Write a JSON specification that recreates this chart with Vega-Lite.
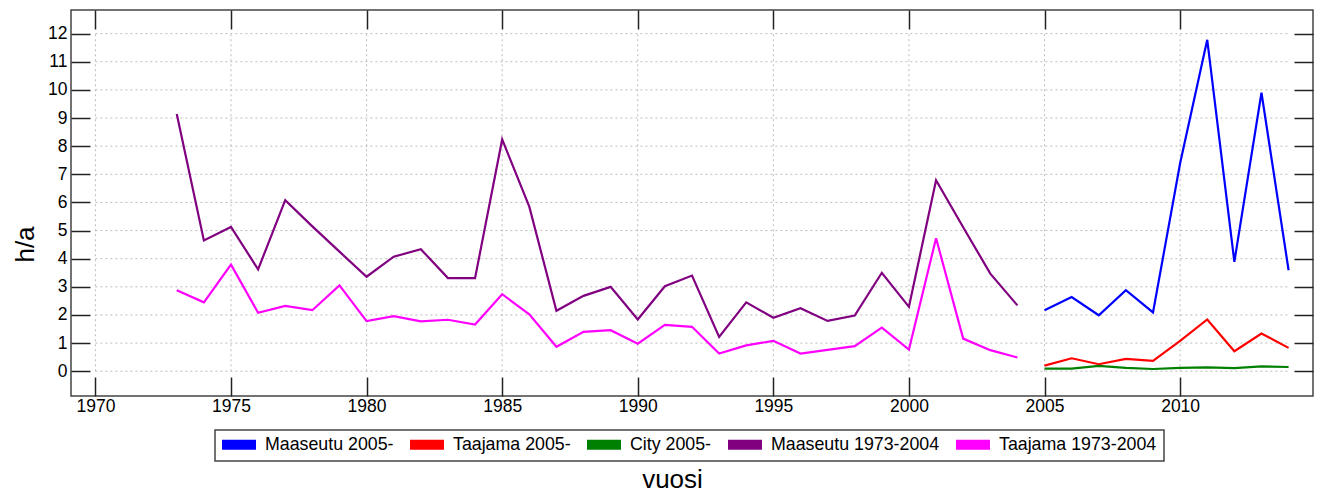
{
  "$schema": "https://vega.github.io/schema/vega-lite/v6.json",
  "width": 1242,
  "height": 386,
  "autosize": "none",
  "padding": {"left": 71, "top": 10, "right": 9, "bottom": 96},
  "background": "white",
  "config": {
    "view": {"stroke": "#444", "strokeWidth": 1.5},
    "font": "Liberation Sans"
  },
  "datasets": {
    "series": [
      {"year": 1973, "value": 9.14, "series": "Maaseutu 1973-2004"},
      {"year": 1974, "value": 4.65, "series": "Maaseutu 1973-2004"},
      {"year": 1975, "value": 5.13, "series": "Maaseutu 1973-2004"},
      {"year": 1976, "value": 3.62, "series": "Maaseutu 1973-2004"},
      {"year": 1977, "value": 6.08, "series": "Maaseutu 1973-2004"},
      {"year": 1978, "value": 5.15, "series": "Maaseutu 1973-2004"},
      {"year": 1979, "value": 4.25, "series": "Maaseutu 1973-2004"},
      {"year": 1980, "value": 3.36, "series": "Maaseutu 1973-2004"},
      {"year": 1981, "value": 4.07, "series": "Maaseutu 1973-2004"},
      {"year": 1982, "value": 4.34, "series": "Maaseutu 1973-2004"},
      {"year": 1983, "value": 3.31, "series": "Maaseutu 1973-2004"},
      {"year": 1984, "value": 3.31, "series": "Maaseutu 1973-2004"},
      {"year": 1985, "value": 8.24, "series": "Maaseutu 1973-2004"},
      {"year": 1986, "value": 5.85, "series": "Maaseutu 1973-2004"},
      {"year": 1987, "value": 2.15, "series": "Maaseutu 1973-2004"},
      {"year": 1988, "value": 2.68, "series": "Maaseutu 1973-2004"},
      {"year": 1989, "value": 3.0, "series": "Maaseutu 1973-2004"},
      {"year": 1990, "value": 1.84, "series": "Maaseutu 1973-2004"},
      {"year": 1991, "value": 3.02, "series": "Maaseutu 1973-2004"},
      {"year": 1992, "value": 3.4, "series": "Maaseutu 1973-2004"},
      {"year": 1993, "value": 1.22, "series": "Maaseutu 1973-2004"},
      {"year": 1994, "value": 2.45, "series": "Maaseutu 1973-2004"},
      {"year": 1995, "value": 1.9, "series": "Maaseutu 1973-2004"},
      {"year": 1996, "value": 2.24, "series": "Maaseutu 1973-2004"},
      {"year": 1997, "value": 1.79, "series": "Maaseutu 1973-2004"},
      {"year": 1998, "value": 1.98, "series": "Maaseutu 1973-2004"},
      {"year": 1999, "value": 3.5, "series": "Maaseutu 1973-2004"},
      {"year": 2000, "value": 2.29, "series": "Maaseutu 1973-2004"},
      {"year": 2001, "value": 6.79, "series": "Maaseutu 1973-2004"},
      {"year": 2002, "value": 5.12, "series": "Maaseutu 1973-2004"},
      {"year": 2003, "value": 3.47, "series": "Maaseutu 1973-2004"},
      {"year": 2004, "value": 2.34, "series": "Maaseutu 1973-2004"},
      {"year": 1973, "value": 2.88, "series": "Taajama 1973-2004"},
      {"year": 1974, "value": 2.45, "series": "Taajama 1973-2004"},
      {"year": 1975, "value": 3.79, "series": "Taajama 1973-2004"},
      {"year": 1976, "value": 2.08, "series": "Taajama 1973-2004"},
      {"year": 1977, "value": 2.32, "series": "Taajama 1973-2004"},
      {"year": 1978, "value": 2.17, "series": "Taajama 1973-2004"},
      {"year": 1979, "value": 3.05, "series": "Taajama 1973-2004"},
      {"year": 1980, "value": 1.78, "series": "Taajama 1973-2004"},
      {"year": 1981, "value": 1.96, "series": "Taajama 1973-2004"},
      {"year": 1982, "value": 1.77, "series": "Taajama 1973-2004"},
      {"year": 1983, "value": 1.83, "series": "Taajama 1973-2004"},
      {"year": 1984, "value": 1.66, "series": "Taajama 1973-2004"},
      {"year": 1985, "value": 2.74, "series": "Taajama 1973-2004"},
      {"year": 1986, "value": 2.02, "series": "Taajama 1973-2004"},
      {"year": 1987, "value": 0.87, "series": "Taajama 1973-2004"},
      {"year": 1988, "value": 1.4, "series": "Taajama 1973-2004"},
      {"year": 1989, "value": 1.46, "series": "Taajama 1973-2004"},
      {"year": 1990, "value": 0.98, "series": "Taajama 1973-2004"},
      {"year": 1991, "value": 1.65, "series": "Taajama 1973-2004"},
      {"year": 1992, "value": 1.58, "series": "Taajama 1973-2004"},
      {"year": 1993, "value": 0.63, "series": "Taajama 1973-2004"},
      {"year": 1994, "value": 0.92, "series": "Taajama 1973-2004"},
      {"year": 1995, "value": 1.08, "series": "Taajama 1973-2004"},
      {"year": 1996, "value": 0.63, "series": "Taajama 1973-2004"},
      {"year": 1997, "value": 0.76, "series": "Taajama 1973-2004"},
      {"year": 1998, "value": 0.89, "series": "Taajama 1973-2004"},
      {"year": 1999, "value": 1.55, "series": "Taajama 1973-2004"},
      {"year": 2000, "value": 0.77, "series": "Taajama 1973-2004"},
      {"year": 2001, "value": 4.73, "series": "Taajama 1973-2004"},
      {"year": 2002, "value": 1.16, "series": "Taajama 1973-2004"},
      {"year": 2003, "value": 0.75, "series": "Taajama 1973-2004"},
      {"year": 2004, "value": 0.49, "series": "Taajama 1973-2004"},
      {"year": 2005, "value": 2.17, "series": "Maaseutu 2005-"},
      {"year": 2006, "value": 2.64, "series": "Maaseutu 2005-"},
      {"year": 2007, "value": 1.99, "series": "Maaseutu 2005-"},
      {"year": 2008, "value": 2.88, "series": "Maaseutu 2005-"},
      {"year": 2009, "value": 2.09, "series": "Maaseutu 2005-"},
      {"year": 2010, "value": 7.39, "series": "Maaseutu 2005-"},
      {"year": 2011, "value": 11.78, "series": "Maaseutu 2005-"},
      {"year": 2012, "value": 3.89, "series": "Maaseutu 2005-"},
      {"year": 2013, "value": 9.9, "series": "Maaseutu 2005-"},
      {"year": 2014, "value": 3.59, "series": "Maaseutu 2005-"},
      {"year": 2005, "value": 0.2, "series": "Taajama 2005-"},
      {"year": 2006, "value": 0.46, "series": "Taajama 2005-"},
      {"year": 2007, "value": 0.25, "series": "Taajama 2005-"},
      {"year": 2008, "value": 0.44, "series": "Taajama 2005-"},
      {"year": 2009, "value": 0.37, "series": "Taajama 2005-"},
      {"year": 2010, "value": 1.08, "series": "Taajama 2005-"},
      {"year": 2011, "value": 1.84, "series": "Taajama 2005-"},
      {"year": 2012, "value": 0.71, "series": "Taajama 2005-"},
      {"year": 2013, "value": 1.34, "series": "Taajama 2005-"},
      {"year": 2014, "value": 0.83, "series": "Taajama 2005-"},
      {"year": 2005, "value": 0.09, "series": "City 2005-"},
      {"year": 2006, "value": 0.09, "series": "City 2005-"},
      {"year": 2007, "value": 0.19, "series": "City 2005-"},
      {"year": 2008, "value": 0.12, "series": "City 2005-"},
      {"year": 2009, "value": 0.08, "series": "City 2005-"},
      {"year": 2010, "value": 0.12, "series": "City 2005-"},
      {"year": 2011, "value": 0.14, "series": "City 2005-"},
      {"year": 2012, "value": 0.11, "series": "City 2005-"},
      {"year": 2013, "value": 0.17, "series": "City 2005-"},
      {"year": 2014, "value": 0.15, "series": "City 2005-"}
    ],
    "gridY": [
      {"gy": 0}, {"gy": 1}, {"gy": 2}, {"gy": 3}, {"gy": 4}, {"gy": 5}, {"gy": 6},
      {"gy": 7}, {"gy": 8}, {"gy": 9}, {"gy": 10}, {"gy": 11}, {"gy": 12}
    ],
    "gridX": [
      {"gx": 1970}, {"gx": 1975}, {"gx": 1980}, {"gx": 1985}, {"gx": 1990},
      {"gx": 1995}, {"gx": 2000}, {"gx": 2005}, {"gx": 2010}
    ]
  },
  "layer": [
    {
      "data": {"name": "gridX"},
      "mark": {"type": "rule", "stroke": "#bbbbbb", "strokeWidth": 1, "strokeDash": [2, 3]},
      "encoding": {
        "x": {
          "field": "gx", "type": "quantitative",
          "scale": {"domain": [1969.1, 2014.9], "nice": false, "zero": false},
          "axis": {
            "orient": "top", "values": [1970, 1975, 1980, 1985, 1990, 1995, 2000, 2005, 2010],
            "labels": false, "domain": false, "grid": false, "title": null,
            "tickSize": -19, "tickWidth": 1.5, "tickColor": "#222"
          }
        },
        "y": {"datum": 0, "type": "quantitative", "scale": {"domain": [-0.88, 12.84], "nice": false, "zero": false}, "axis": null},
        "y2": {"datum": 12}
      }
    },
    {
      "data": {"name": "gridY"},
      "mark": {"type": "rule", "stroke": "#bbbbbb", "strokeWidth": 1, "strokeDash": [2, 3]},
      "encoding": {
        "y": {
          "field": "gy", "type": "quantitative",
          "scale": {"domain": [-0.88, 12.84], "nice": false, "zero": false},
          "axis": {
            "orient": "right", "values": [0, 1, 2, 3, 4, 5, 6, 7, 8, 9, 10, 11, 12],
            "labels": false, "domain": false, "grid": false, "title": null,
            "tickSize": -19, "tickWidth": 1.5, "tickColor": "#222"
          }
        },
        "x": {"datum": 1970, "type": "quantitative", "scale": {"domain": [1969.1, 2014.9], "nice": false, "zero": false}, "axis": null},
        "x2": {"datum": 2014}
      }
    },
    {
      "data": {"name": "series"},
      "mark": {"type": "line", "strokeWidth": 2.2},
      "encoding": {
        "x": {
          "field": "year", "type": "quantitative",
          "scale": {"domain": [1969.1, 2014.9], "nice": false, "zero": false},
          "axis": {
            "orient": "bottom", "values": [1970, 1975, 1980, 1985, 1990, 1995, 2000, 2005, 2010],
            "format": "d", "domain": false, "grid": false,
            "tickSize": -19, "tickWidth": 1.5, "tickColor": "#222",
            "labelPadding": 20, "labelFontSize": 17.5, "labelFont": "Liberation Sans", "labelColor": "#000",
            "labelFlush": false,
            "title": "vuosi", "titleFont": "Liberation Sans", "titleFontSize": 26, "titleFontWeight": "normal",
            "titleColor": "#000", "titleX": 601, "titleY": 91, "titleAlign": "center", "titleBaseline": "alphabetic"
          }
        },
        "y": {
          "field": "value", "type": "quantitative",
          "scale": {"domain": [-0.88, 12.84], "nice": false, "zero": false},
          "axis": {
            "orient": "left", "values": [0, 1, 2, 3, 4, 5, 6, 7, 8, 9, 10, 11, 12],
            "domain": false, "grid": false,
            "tickSize": -19, "tickWidth": 1.5, "tickColor": "#222",
            "labelPadding": 23, "labelFontSize": 17.5, "labelFont": "Liberation Sans", "labelColor": "#000",
            "labelFlush": false,
            "title": "h/a", "titleFont": "Liberation Sans", "titleFontSize": 26, "titleFontWeight": "normal",
            "titleColor": "#000", "titleX": -38, "titleY": 234, "titleAngle": -90, "titleAlign": "center", "titleBaseline": "alphabetic"
          }
        },
        "color": {
          "field": "series", "type": "nominal",
          "scale": {
            "domain": ["Maaseutu 2005-", "Taajama 2005-", "City 2005-", "Maaseutu 1973-2004", "Taajama 1973-2004"],
            "range": ["#0000ff", "#ff0000", "#008000", "#800080", "#ff00ff"]
          },
          "legend": {
            "orient": "none", "legendX": 144, "legendY": 420, "direction": "horizontal", "columns": 5,
            "title": null, "padding": 7, "strokeColor": "#444",
            "symbolType": "M-1,-0.294H1V0.294H-1Z", "symbolSize": 1156, "symbolStrokeWidth": 0,
            "labelFont": "Liberation Sans", "labelFontSize": 17.8, "labelColor": "#000", "labelOffset": 9,
            "labelLimit": 400, "columnPadding": 16, "clipHeight": 15,
            "encode": {
              "symbols": {"update": {"fill": {"scale": "color", "field": "value"}, "strokeWidth": {"value": 0}, "opacity": {"value": 1}}},
              "legend": {"update": {"strokeWidth": {"value": 1.5}}}
            }
          }
        }
      }
    }
  ],
  "resolve": {"axis": {"x": "independent", "y": "independent"}}
}
